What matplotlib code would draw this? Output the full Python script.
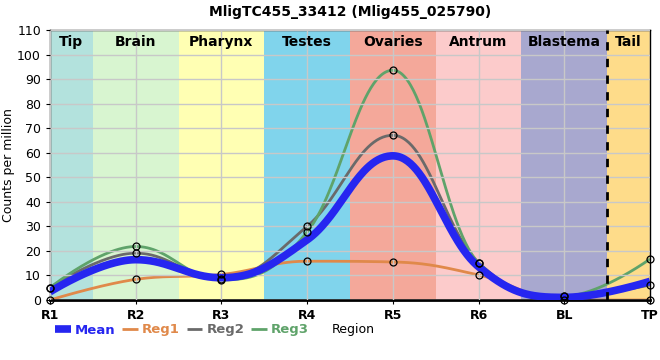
import numpy as np
import matplotlib
matplotlib.use("Agg")
import matplotlib.pyplot as plt

regions = ["R1", "R2", "R3", "R4", "R5", "R6", "BL", "TP"]
reg1 = [0, 8.4, 10.4, 15.8, 15.5, 10.2, 0, 0]
reg2 = [5, 19.1, 8.6, 30, 67.1, 15.2, 1.6, 6.1]
reg3 = [5, 21.8, 8.2, 27.7, 93.6, 15.2, 1.6, 16.7]

band_names = ["Tip", "Brain", "Pharynx", "Testes", "Ovaries", "Antrum", "Blastema", "Tail"]
band_colors = ["#b3e2dd", "#d8f5d0", "#ffffb3", "#80d4ec", "#f4a89a", "#fccbcb", "#a8a8cf", "#fedc8a"]


def spline(xv, yv, smoothing=1.5, steps=60):
    # bezier spline, control points like a highcharts "spline" series
    xv = [float(v) for v in xv]
    yv = [float(v) for v in yv]
    n = len(xv)
    d = smoothing + 1
    lc = [(xv[i], yv[i]) for i in range(n)]
    rc = [(xv[i], yv[i]) for i in range(n)]
    for i in range(1, n - 1):
        px, py = xv[i], yv[i]
        lx, ly = xv[i - 1], yv[i - 1]
        nx, ny = xv[i + 1], yv[i + 1]
        lcx, lcy = (smoothing * px + lx) / d, (smoothing * py + ly) / d
        rcx, rcy = (smoothing * px + nx) / d, (smoothing * py + ny) / d
        if rcx != lcx:
            corr = (rcy - lcy) * (rcx - px) / (rcx - lcx) + py - rcy
            lcy += corr
            rcy += corr
        if lcy > ly and lcy > py:
            lcy = max(ly, py)
            rcy = 2 * py - lcy
        elif lcy < ly and lcy < py:
            lcy = min(ly, py)
            rcy = 2 * py - lcy
        if rcy > ny and rcy > py:
            rcy = max(ny, py)
            lcy = 2 * py - rcy
        elif rcy < ny and rcy < py:
            rcy = min(ny, py)
            lcy = 2 * py - rcy
        lc[i] = (lcx, lcy)
        rc[i] = (rcx, rcy)
    t = np.linspace(0, 1, steps)
    b0, b1, b2, b3 = (1 - t)**3, 3 * t * (1 - t)**2, 3 * t**2 * (1 - t), t**3
    xs, ys = [], []
    for i in range(n - 1):
        xs.append(b0 * xv[i] + b1 * rc[i][0] + b2 * lc[i + 1][0] + b3 * xv[i + 1])
        ys.append(b0 * yv[i] + b1 * rc[i][1] + b2 * lc[i + 1][1] + b3 * yv[i + 1])
    return np.concatenate(xs), np.concatenate(ys)


x = np.arange(len(regions))
mean = (np.array(reg1) + np.array(reg2) + np.array(reg3)) / 3

fig = plt.figure(figsize=(6.6, 3.6), dpi=100)
ax = fig.add_axes([50 / 660, 60 / 360, 600 / 660, 270 / 360])

edges = [0, 0.5, 1.5, 2.5, 3.5, 4.5, 5.5, 6.5, 7]
for i, name in enumerate(band_names):
    ax.axvspan(edges[i], edges[i + 1], color=band_colors[i], zorder=0, lw=0)
    ax.text((edges[i] + edges[i + 1]) / 2, 108, name, ha="center", va="top",
            fontsize=10, fontweight="bold", zorder=5)
ax.axvline(6.5, color="black", ls=(0, (3, 3)), lw=2, zorder=4)

ax.grid(True, color="#c8c8c8", lw=1, zorder=1)
ax.set_axisbelow(False)

lines = [("Mean", mean, "#2626f0", 5.5),
         ("Reg1", reg1, "#e0894a", 2),
         ("Reg2", reg2, "#6a6a6a", 2),
         ("Reg3", reg3, "#5fa36a", 2)]
handles = []
for name, vals, col, lw in lines:
    z = 3 if name == "Mean" else 2
    sx, sy = spline(x, vals)
    h, = ax.plot(sx, sy, color=col, lw=lw, label=name, zorder=z,
                 solid_capstyle="butt", solid_joinstyle="round")
    handles.append(h)
for vals in (reg1, reg2, reg3):
    ax.plot(x, vals, "o", mfc="none", mec="black", ms=5, mew=0.9, zorder=6,
            clip_on=False)

ax.set_xlim(0, 7)
ax.set_ylim(0, 110)
ax.set_yticks(range(0, 111, 10))
ax.set_xticks(x)
ax.set_xticklabels(regions, fontweight="bold")
ax.tick_params(axis="both", labelsize=9, length=3)
for sp in ax.spines.values():
    sp.set_linewidth(1)
ax.spines["bottom"].set_linewidth(2)
ax.set_ylabel("Counts per million", fontsize=9)
ax.yaxis.set_label_coords(-35 / 600, 0.5)
ax.set_title("MligTC455_33412 (Mlig455_025790)", fontsize=10,
             fontweight="bold", pad=10)

leg = fig.legend(handles=handles, loc="center left", bbox_to_anchor=(50 / 660, 30 / 360),
                 ncol=4, frameon=False, fontsize=9.5, handlelength=1.2,
                 columnspacing=0.5, handletextpad=0.3, borderaxespad=0)
for txt, (_, _, col, _) in zip(leg.get_texts(), lines):
    txt.set_color(col)
    txt.set_fontweight("bold")
fig.text(332 / 660, 30 / 360, "Region", fontsize=9, va="center")

fig.savefig("out.png", dpi=100)
